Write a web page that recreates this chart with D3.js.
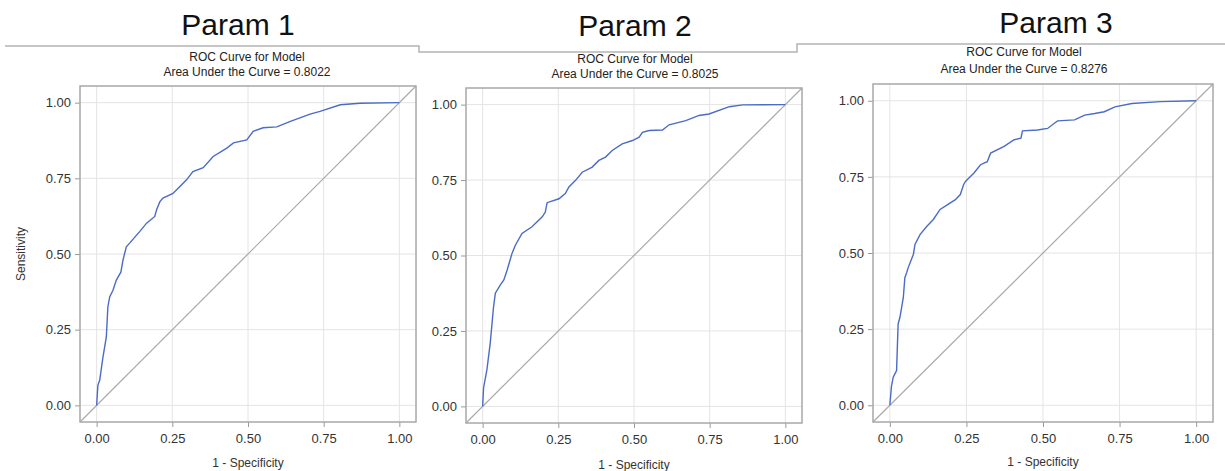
<!DOCTYPE html>
<html>
<head>
<meta charset="utf-8">
<script src="https://cdn.jsdelivr.net/npm/d3@7"></script>
<style>
  body { margin: 0; background: #fff; }
  text { font-family: "Liberation Sans", Arial, sans-serif; }
</style>
</head>
<body>
<script>
// ROC points (1 - specificity, sensitivity)
var fpr1 = [0, 0.004, 0.01, 0.021, 0.032, 0.037, 0.043, 0.054, 0.065, 0.08, 0.087, 0.098, 0.109, 0.142, 0.165, 0.192, 0.198, 0.209, 0.219, 0.252, 0.275, 0.297, 0.318, 0.352, 0.385, 0.43, 0.452, 0.496, 0.517, 0.55, 0.595, 0.64, 0.705, 0.738, 0.805, 0.87, 1];
var tpr1 = [0, 0.066, 0.083, 0.16, 0.226, 0.325, 0.358, 0.38, 0.414, 0.44, 0.48, 0.524, 0.536, 0.574, 0.602, 0.624, 0.646, 0.673, 0.685, 0.70, 0.723, 0.745, 0.772, 0.785, 0.822, 0.85, 0.867, 0.877, 0.905, 0.917, 0.92, 0.938, 0.962, 0.971, 0.993, 0.998, 1];

var fpr2 = [0, 0.003, 0.014, 0.025, 0.036, 0.042, 0.058, 0.07, 0.081, 0.097, 0.108, 0.13, 0.163, 0.185, 0.197, 0.207, 0.213, 0.252, 0.273, 0.285, 0.307, 0.329, 0.362, 0.384, 0.406, 0.428, 0.461, 0.495, 0.517, 0.528, 0.55, 0.594, 0.616, 0.671, 0.715, 0.748, 0.815, 0.859, 1];
var tpr2 = [0, 0.061, 0.121, 0.209, 0.33, 0.375, 0.402, 0.419, 0.452, 0.507, 0.534, 0.573, 0.595, 0.617, 0.628, 0.644, 0.675, 0.688, 0.705, 0.727, 0.749, 0.776, 0.793, 0.815, 0.826, 0.848, 0.870, 0.881, 0.892, 0.908, 0.914, 0.916, 0.933, 0.947, 0.964, 0.969, 0.993, 0.999, 1];

var fpr3 = [0, 0.005, 0.011, 0.022, 0.027, 0.033, 0.044, 0.049, 0.055, 0.06, 0.077, 0.082, 0.099, 0.121, 0.142, 0.164, 0.186, 0.214, 0.23, 0.241, 0.247, 0.258, 0.274, 0.296, 0.318, 0.329, 0.373, 0.406, 0.428, 0.433, 0.482, 0.515, 0.537, 0.548, 0.603, 0.636, 0.669, 0.70, 0.735, 0.79, 0.883, 1];
var tpr3 = [0, 0.06, 0.092, 0.114, 0.267, 0.289, 0.354, 0.419, 0.436, 0.452, 0.496, 0.528, 0.561, 0.588, 0.61, 0.643, 0.657, 0.675, 0.692, 0.725, 0.735, 0.746, 0.762, 0.79, 0.80, 0.828, 0.85, 0.872, 0.877, 0.901, 0.904, 0.909, 0.926, 0.934, 0.937, 0.953, 0.958, 0.964, 0.98, 0.991, 0.997, 1];

var paramNames = ["Param 1", "Param 2", "Param 3"];
var aucLabels = ["0.8022", "0.8025", "0.8276"];
var tickValues = [0, 0.25, 0.5, 0.75, 1];

var W = 1225, H = 471;
var pad = 0.055;

// where each pasted plot sits on the page
var panels = [
  {fpr: fpr1, tpr: tpr1, left: 80, right: 416, top: 86, bottom: 422, cx: 247, t1: 58, t2: 73, px: 238, py: 35, ylab: true, xlabY: 464},
  {fpr: fpr2, tpr: tpr2, left: 466, right: 802, top: 88, bottom: 423, cx: 635, t1: 60, t2: 75, px: 635, py: 36, ylab: false, xlabY: 466},
  {fpr: fpr3, tpr: tpr3, left: 873, right: 1213, top: 84, bottom: 422, cx: 1024, t1: 53, t2: 70, px: 1056, py: 33, ylab: false, xlabY: 463}
];

var svg = d3.select("body").append("svg")
    .attr("width", W)
    .attr("height", H);

// top border lines of the three pasted images
var borderPts = [[5, 46], [419, 46], [419, 52], [797, 52], [797, 44], [1225, 44]];
svg.append("path")
    .attr("d", d3.line()(borderPts))
    .attr("fill", "none")
    .attr("stroke", "#b4b4b4")
    .attr("stroke-width", 1.5);

panels.forEach(function(p, i) {
  var x = d3.scaleLinear().domain([-pad, 1 + pad]).range([p.left, p.right]);
  var y = d3.scaleLinear().domain([-pad, 1 + pad]).range([p.bottom, p.top]);
  var g = svg.append("g");

  // headings
  svg.append("text")
      .attr("x", p.px)
      .attr("y", p.py)
      .attr("text-anchor", "middle")
      .style("font-size", "30px")
      .style("fill", "#111")
      .text(paramNames[i]);

  g.append("text")
      .attr("x", p.cx).attr("y", p.t1)
      .attr("text-anchor", "middle")
      .attr("dominant-baseline", "middle")
      .style("font-size", "12px").style("fill", "#222")
      .text("ROC Curve for Model");
  g.append("text")
      .attr("x", p.cx).attr("y", p.t2)
      .attr("text-anchor", "middle")
      .attr("dominant-baseline", "middle")
      .style("font-size", "12px").style("fill", "#222")
      .text("Area Under the Curve = " + aucLabels[i]);

  // grid
  g.selectAll(".gx").data(tickValues).enter().append("line")
      .attr("x1", function(d) { return x(d); })
      .attr("x2", function(d) { return x(d); })
      .attr("y1", p.top).attr("y2", p.bottom)
      .attr("stroke", "#e4e4e4");
  g.selectAll(".gy").data(tickValues).enter().append("line")
      .attr("y1", function(d) { return y(d); })
      .attr("y2", function(d) { return y(d); })
      .attr("x1", p.left).attr("x2", p.right)
      .attr("stroke", "#e4e4e4");

  // axes
  var ax = g.append("g")
      .attr("transform", "translate(0," + p.bottom + ")")
      .call(d3.axisBottom(x).tickValues(tickValues).tickSize(5).tickPadding(7).tickFormat(d3.format(".2f")));
  var ay = g.append("g")
      .attr("transform", "translate(" + p.left + ",0)")
      .call(d3.axisLeft(y).tickValues(tickValues).tickSize(5).tickPadding(4).tickFormat(d3.format(".2f")));
  [ax, ay].forEach(function(a) {
    a.select(".domain").remove();
    a.selectAll("line").attr("stroke", "#999");
    a.selectAll("text").style("font-size", "13px").style("fill", "#333")
        .style("font-family", "'Liberation Sans', Arial, sans-serif");
  });

  // diagonal reference
  g.append("line")
      .attr("x1", x(-pad)).attr("y1", y(-pad))
      .attr("x2", x(1 + pad)).attr("y2", y(1 + pad))
      .attr("stroke", "#aaaaaa")
      .attr("stroke-width", 1.2);

  // ROC curve
  var pts = p.fpr.map(function(f, k) { return [f, p.tpr[k]]; });
  g.append("path")
      .datum(pts)
      .attr("fill", "none")
      .attr("stroke", "#4a6cc6")
      .attr("stroke-width", 1.4)
      .attr("d", d3.line()
        .x(function(d) { return x(d[0]); })
        .y(function(d) { return y(d[1]); }));

  // frame
  g.append("rect")
      .attr("x", p.left).attr("y", p.top)
      .attr("width", p.right - p.left).attr("height", p.bottom - p.top)
      .attr("fill", "none")
      .attr("stroke", "#a8a8a8")
      .attr("stroke-width", 1.5);

  // labels
  g.append("text")
      .attr("x", (p.left + p.right) / 2)
      .attr("y", p.xlabY)
      .attr("text-anchor", "middle")
      .attr("dominant-baseline", "middle")
      .style("font-size", "12px").style("fill", "#333")
      .text("1 - Specificity");
  if (p.ylab) {
    g.append("text")
        .attr("transform", "translate(22," + ((p.top + p.bottom) / 2) + ") rotate(-90)")
        .attr("text-anchor", "middle")
        .attr("dominant-baseline", "middle")
        .style("font-size", "12px").style("fill", "#333")
        .text("Sensitivity");
  }
});
</script>
</body>
</html>
